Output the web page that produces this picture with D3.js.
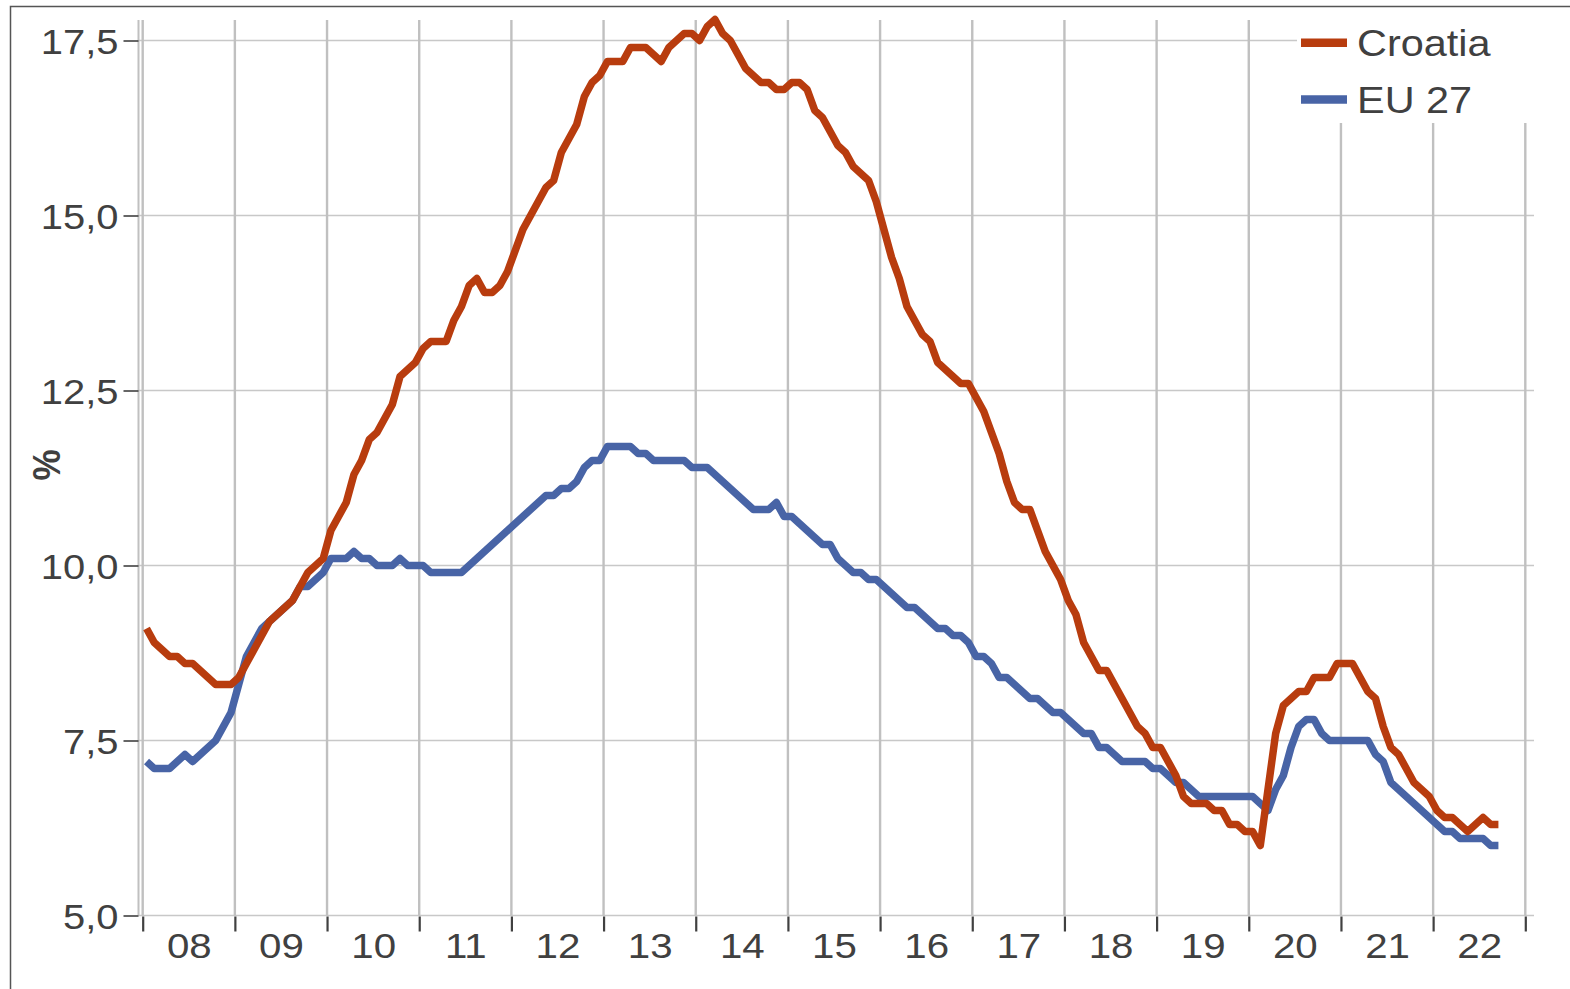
<!DOCTYPE html>
<html><head><meta charset="utf-8">
<script src="https://cdn.jsdelivr.net/npm/d3@7"></script>
<style>
body{margin:0;background:#fff}
svg{display:block}
text{font-family:"Liberation Sans",Arial,sans-serif;fill:#404040}
</style>
</head><body>
<svg id="c" width="1570" height="989"></svg>
<script>
// Monthly unemployment rate, Jan 2008 – Sep 2022
const yearLabels = ["08","09","10","11","12","13","14","15","16","17","18","19","20","21","22"];
const croatia = [
  9.1, 8.9, 8.8, 8.7, 8.7, 8.6, 8.6, 8.5, 8.4, 8.3, 8.3, 8.3,
  8.4, 8.6, 8.8, 9.0, 9.2, 9.3, 9.4, 9.5, 9.7, 9.9, 10.0, 10.1,
  10.5, 10.7, 10.9, 11.3, 11.5, 11.8, 11.9, 12.1, 12.3, 12.7, 12.8, 12.9,
  13.1, 13.2, 13.2, 13.2, 13.5, 13.7, 14.0, 14.1, 13.9, 13.9, 14.0, 14.2,
  14.5, 14.8, 15.0, 15.2, 15.4, 15.5, 15.9, 16.1, 16.3, 16.7, 16.9, 17.0,
  17.2, 17.2, 17.2, 17.4, 17.4, 17.4, 17.3, 17.2, 17.4, 17.5, 17.6, 17.6,
  17.5, 17.7, 17.8, 17.6, 17.5, 17.3, 17.1, 17.0, 16.9, 16.9, 16.8, 16.8,
  16.9, 16.9, 16.8, 16.5, 16.4, 16.2, 16.0, 15.9, 15.7, 15.6, 15.5, 15.2,
  14.8, 14.4, 14.1, 13.7, 13.5, 13.3, 13.2, 12.9, 12.8, 12.7, 12.6, 12.6,
  12.4, 12.2, 11.9, 11.6, 11.2, 10.9, 10.8, 10.8, 10.5, 10.2, 10.0, 9.8,
  9.5, 9.3, 8.9, 8.7, 8.5, 8.5, 8.3, 8.1, 7.9, 7.7, 7.6, 7.4,
  7.4, 7.2, 7.0, 6.7, 6.6, 6.6, 6.6, 6.5, 6.5, 6.3, 6.3, 6.2,
  6.2, 6.0, 6.8, 7.6, 8.0, 8.1, 8.2, 8.2, 8.4, 8.4, 8.4, 8.6,
  8.6, 8.6, 8.4, 8.2, 8.1, 7.7, 7.4, 7.3, 7.1, 6.9, 6.8, 6.7,
  6.5, 6.4, 6.4, 6.3, 6.2, 6.3, 6.4, 6.3, 6.3
];
const eu27 = [
  7.2, 7.1, 7.1, 7.1, 7.2, 7.3, 7.2, 7.3, 7.4, 7.5, 7.7, 7.9,
  8.3, 8.7, 8.9, 9.1, 9.2, 9.3, 9.4, 9.5, 9.7, 9.7, 9.8, 9.9,
  10.1, 10.1, 10.1, 10.2, 10.1, 10.1, 10.0, 10.0, 10.0, 10.1, 10.0, 10.0,
  10.0, 9.9, 9.9, 9.9, 9.9, 9.9, 10.0, 10.1, 10.2, 10.3, 10.4, 10.5,
  10.6, 10.7, 10.8, 10.9, 11.0, 11.0, 11.1, 11.1, 11.2, 11.4, 11.5, 11.5,
  11.7, 11.7, 11.7, 11.7, 11.6, 11.6, 11.5, 11.5, 11.5, 11.5, 11.5, 11.4,
  11.4, 11.4, 11.3, 11.2, 11.1, 11.0, 10.9, 10.8, 10.8, 10.8, 10.9, 10.7,
  10.7, 10.6, 10.5, 10.4, 10.3, 10.3, 10.1, 10.0, 9.9, 9.9, 9.8, 9.8,
  9.7, 9.6, 9.5, 9.4, 9.4, 9.3, 9.2, 9.1, 9.1, 9.0, 9.0, 8.9,
  8.7, 8.7, 8.6, 8.4, 8.4, 8.3, 8.2, 8.1, 8.1, 8.0, 7.9, 7.9,
  7.8, 7.7, 7.6, 7.6, 7.4, 7.4, 7.3, 7.2, 7.2, 7.2, 7.2, 7.1,
  7.1, 7.0, 6.9, 6.9, 6.8, 6.7, 6.7, 6.7, 6.7, 6.7, 6.7, 6.7,
  6.7, 6.6, 6.5, 6.8, 7.0, 7.4, 7.7, 7.8, 7.8, 7.6, 7.5, 7.5,
  7.5, 7.5, 7.5, 7.5, 7.3, 7.2, 6.9, 6.8, 6.7, 6.6, 6.5, 6.4,
  6.3, 6.2, 6.2, 6.1, 6.1, 6.1, 6.1, 6.0, 6.0
];
const yTicks = [5, 7.5, 10, 12.5, 15, 17.5];
const seriesNames = ["Croatia", "EU 27"];
const seriesColors = ["#B83C0E", "#4864A6"];

const svg = d3.select("#c");
const x = d3.scaleLinear().domain([0, 180]).range([142.7, 1525.3]);
const y = d3.scaleLinear().domain([5, 17.8]).range([915.5, 19.5]);
const xLeft = 138.5, xRight = 1534, yTop = 20, yBot = 915.5;
const yearTicks = yearLabels.map((d, i) => i * 12).concat([180]);
const labelPos = yearLabels.map((d, i) => i * 12 + 6);

// outer frame
svg.append("rect").attr("x", 10.5).attr("y", 6.5).attr("width", 1600).attr("height", 1000)
  .attr("fill", "none").attr("stroke", "#555").attr("stroke-width", 1.5);

// gridlines
const grid = svg.append("g");
grid.selectAll("line.h").data(yTicks).join("line")
  .attr("x1", xLeft).attr("x2", xRight)
  .attr("y1", d => y(d)).attr("y2", d => y(d))
  .attr("stroke", "#c8c8c8").attr("stroke-width", 1.6);
grid.selectAll("line.v").data(yearTicks).join("line")
  .attr("x1", d => x(d)).attr("x2", d => x(d))
  .attr("y1", yTop).attr("y2", yBot)
  .attr("stroke", "#c0c0c0").attr("stroke-width", 2.4);

// legend background
svg.append("rect").attr("x", 1297).attr("y", 18).attr("width", 280).attr("height", 105).attr("fill", "#fff");

// y axis
const yAxis = svg.append("g").attr("transform", `translate(${xLeft},0)`)
  .call(d3.axisLeft(y).tickValues(yTicks).tickSizeInner(15).tickSizeOuter(0)
    .tickFormat(d => d.toFixed(1).replace(".", ",")));
yAxis.select(".domain").attr("stroke", "#c0c0c0").attr("stroke-width", 2).attr("d", `M0,${yTop}V${yBot}`);
yAxis.selectAll(".tick line").attr("stroke", "#404040").attr("stroke-width", 1.6);
yAxis.selectAll(".tick text").attr("x", null).attr("dy", null)
  .attr("transform", "translate(-20,12.5) scale(1.14,1)")
  .style("font-size", "35px").attr("fill", "#404040");

// x axis ticks
const xAxis = svg.append("g").attr("transform", `translate(0,${yBot + 1})`)
  .call(d3.axisBottom(x).tickValues(yearTicks).tickSizeInner(15).tickSizeOuter(0).tickFormat(""));
xAxis.select(".domain").remove();
xAxis.selectAll(".tick line").attr("stroke", "#404040").attr("stroke-width", 2.2);
// x labels
const xLab = svg.append("g").attr("transform", `translate(0,${yBot})`)
  .call(d3.axisBottom(x).tickValues(labelPos).tickSize(0).tickFormat((d, i) => yearLabels[i]));
xLab.select(".domain").remove();
xLab.selectAll(".tick text").attr("y", null).attr("dy", null)
  .attr("transform", "translate(0,42.5) scale(1.15,1)")
  .style("font-size", "35px").attr("fill", "#404040");

// y title
svg.append("text").attr("transform", "translate(60,465) scale(1.13,1) rotate(-90)")
  .attr("text-anchor", "middle").style("font-size", "35px").style("font-weight", "bold").text("%");

// lines
const line = d3.line().x((d, i) => x(i + 0.5)).y(d => y(d)).curve(d3.curveLinear);
[eu27, croatia].forEach((s, k) => {
  const col = k === 0 ? seriesColors[1] : seriesColors[0];
  svg.append("path").datum(s).attr("d", line).attr("fill", "none")
    .attr("stroke", col).attr("stroke-width", 7.5).attr("stroke-linejoin", "round").attr("stroke-linecap", "butt");
});

// legend
const legY = [42.7, 99.5];
seriesNames.forEach((n, k) => {
  svg.append("line").attr("x1", 1301).attr("x2", 1347).attr("y1", legY[k]).attr("y2", legY[k])
    .attr("stroke", seriesColors[k]).attr("stroke-width", 8.5);
  svg.append("text").attr("transform", `translate(1357,${legY[k] + 13}) scale(1.12,1)`)
    .style("font-size", "37px").text(n);
});
</script>
</body></html>
